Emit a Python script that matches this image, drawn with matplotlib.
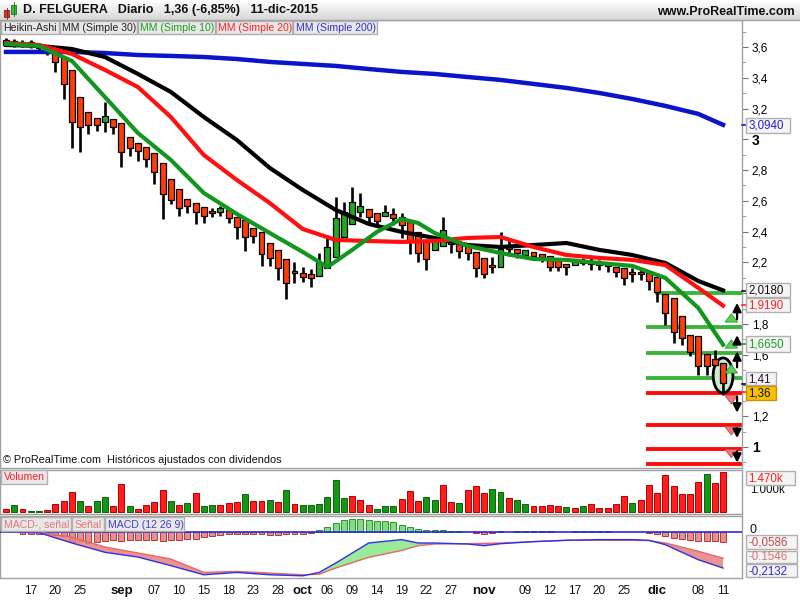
import matplotlib
matplotlib.use('Agg')
import matplotlib.pyplot as plt
import numpy as np
import pandas as pd
from matplotlib.patches import Rectangle, Ellipse
from matplotlib.colors import LinearSegmentedColormap
import matplotlib.transforms as mtrans

plt.rcParams['font.family'] = ['Liberation Sans', 'DejaVu Sans']

# ---- data (Heikin-Ashi candles, D. Felguera, daily) ----
dates = pd.bdate_range('2015-08-12', '2015-12-11')

ha_open = [3.646, 3.639, 3.633, 3.633, 3.620, 3.600, 3.561, 3.535, 3.451, 3.275,
           3.178, 3.139, 3.113, 3.132, 3.106, 3.015, 2.976, 2.950, 2.911, 2.846,
           2.742, 2.677, 2.612, 2.586, 2.560, 2.534, 2.528, 2.541, 2.495, 2.476,
           2.424, 2.398, 2.326, 2.281, 2.222, 2.144, 2.131, 2.125, 2.112, 2.164,
           2.235, 2.365, 2.450, 2.528, 2.547, 2.521, 2.502, 2.515, 2.495, 2.463,
           2.398, 2.346, 2.281, 2.307, 2.346, 2.326, 2.307, 2.268, 2.229, 2.183,
           2.170, 2.313, 2.287, 2.248, 2.268, 2.255, 2.242, 2.216, 2.190, 2.183,
           2.196, 2.209, 2.203, 2.196, 2.170, 2.164, 2.138, 2.138, 2.131, 2.105,
           1.995, 1.969, 1.852, 1.728, 1.722, 1.605, 1.572, 1.546]
ha_high = [3.659, 3.652, 3.646, 3.646, 3.626, 3.607, 3.561, 3.535, 3.451, 3.275,
           3.178, 3.139, 3.243, 3.132, 3.106, 3.015, 2.976, 2.950, 2.911, 2.846,
           2.742, 2.677, 2.612, 2.586, 2.560, 2.554, 2.567, 2.541, 2.495, 2.476,
           2.424, 2.398, 2.326, 2.281, 2.222, 2.203, 2.170, 2.157, 2.261, 2.378,
           2.625, 2.593, 2.690, 2.651, 2.547, 2.521, 2.573, 2.554, 2.521, 2.463,
           2.398, 2.346, 2.359, 2.495, 2.346, 2.326, 2.307, 2.268, 2.229, 2.235,
           2.398, 2.346, 2.287, 2.281, 2.268, 2.255, 2.242, 2.216, 2.190, 2.222,
           2.229, 2.229, 2.216, 2.196, 2.170, 2.164, 2.164, 2.157, 2.131, 2.105,
           1.995, 1.969, 1.852, 1.728, 1.722, 1.605, 1.631, 1.546]
ha_low = [3.607, 3.600, 3.600, 3.594, 3.581, 3.548, 3.438, 3.262, 2.944, 2.918,
          3.035, 3.054, 3.048, 3.035, 2.820, 2.892, 2.859, 2.820, 2.710, 2.482,
          2.580, 2.502, 2.521, 2.450, 2.456, 2.495, 2.502, 2.456, 2.352, 2.274,
          2.326, 2.177, 2.177, 2.086, 1.962, 2.066, 2.073, 2.040, 2.112, 2.164,
          2.235, 2.365, 2.450, 2.495, 2.450, 2.430, 2.502, 2.443, 2.359, 2.255,
          2.203, 2.151, 2.281, 2.307, 2.261, 2.229, 2.216, 2.105, 2.099, 2.131,
          2.170, 2.242, 2.229, 2.229, 2.222, 2.203, 2.144, 2.144, 2.118, 2.183,
          2.183, 2.151, 2.151, 2.138, 2.105, 2.053, 2.073, 2.086, 2.021, 1.943,
          1.793, 1.676, 1.663, 1.592, 1.468, 1.468, 1.527, 1.338]
ha_close = [3.613, 3.613, 3.613, 3.607, 3.594, 3.561, 3.503, 3.360, 3.113, 3.080,
            3.093, 3.093, 3.152, 3.080, 2.918, 2.944, 2.924, 2.872, 2.788, 2.645,
            2.606, 2.554, 2.567, 2.528, 2.502, 2.521, 2.554, 2.489, 2.430, 2.365,
            2.372, 2.255, 2.229, 2.164, 2.066, 2.131, 2.105, 2.099, 2.203, 2.300,
            2.489, 2.528, 2.593, 2.567, 2.495, 2.469, 2.528, 2.489, 2.443, 2.333,
            2.261, 2.222, 2.359, 2.411, 2.320, 2.274, 2.261, 2.164, 2.125, 2.170,
            2.287, 2.287, 2.261, 2.281, 2.242, 2.235, 2.170, 2.170, 2.170, 2.222,
            2.216, 2.190, 2.183, 2.177, 2.138, 2.099, 2.125, 2.125, 2.079, 2.008,
            1.871, 1.748, 1.709, 1.618, 1.527, 1.527, 1.533, 1.416]

# moving averages read at selected bars
ma_idx = [0, 4, 8, 12, 16, 20, 24, 28, 32, 36, 40, 44, 48, 52, 56, 60, 64, 68, 72, 76, 80, 84, 87]
ma200 = [3.568, 3.568, 3.568, 3.561, 3.548, 3.542, 3.535, 3.522, 3.503, 3.490, 3.477, 3.457,
         3.438, 3.425, 3.405, 3.386, 3.360, 3.334, 3.301, 3.262, 3.217, 3.165, 3.094]
ma30 = [3.613, 3.607, 3.587, 3.535, 3.425, 3.308, 3.145, 2.996, 2.814, 2.671, 2.541, 2.450,
        2.398, 2.359, 2.313, 2.300, 2.313, 2.326, 2.281, 2.248, 2.196, 2.079, 2.018]
ma20 = [3.626, 3.613, 3.555, 3.451, 3.340, 3.145, 2.898, 2.736, 2.586, 2.417, 2.346, 2.339,
        2.333, 2.339, 2.359, 2.365, 2.300, 2.248, 2.229, 2.216, 2.183, 2.034, 1.919]
ma10_idx = [0, 4, 8, 12, 16, 20, 24, 28, 32, 36, 39, 42, 45, 48, 50, 52, 56, 60, 64, 68, 72, 76, 80, 84, 87]
ma10 = [3.620, 3.607, 3.509, 3.275, 3.041, 2.866, 2.651, 2.515, 2.391, 2.268, 2.170, 2.281, 2.398,
        2.482, 2.456, 2.391, 2.307, 2.261, 2.222, 2.216, 2.196, 2.177, 2.099, 1.904, 1.665]

# support / resistance levels
sup_green = [2.00, 1.78, 1.61, 1.45]
sup_red = [1.35, 1.14, 0.99, 0.89]

# volume (thousands)
volume = [122, 248, 100, 48, 26, 63, 285, 396, 730, 396,
          211, 396, 544, 211, 1026, 211, 100, 248, 370, 804,
          396, 248, 322, 692, 211, 248, 248, 322, 359, 655,
          396, 396, 455, 359, 804, 285, 248, 248, 285, 544,
          1174, 507, 581, 433, 248, 100, 211, 211, 470, 767,
          396, 544, 433, 989, 359, 322, 804, 952, 692, 841,
          730, 507, 433, 285, 211, 211, 248, 211, 174, 137,
          211, 285, 137, 137, 285, 581, 322, 433, 989, 692,
          1359, 952, 655, 655, 1100, 1396, 1063, 1470]
vol_dir = ("rgrggrrrrg" "rggrrgrrrr" "grgrggrrrg" "rrgrgrgggg" "ggrrrgggrr"
           "rggrrgrrrg" "grggrrrrgr" "grrrrrgrrr" "rrrrrgrr")

# MACD (12 26 9)
macd_idx = [0, 4, 8, 12, 16, 20, 24, 28, 32, 36, 38, 40, 44, 48, 50, 52, 56, 58, 60, 64, 68, 72, 76, 78, 80, 84, 87]
macd = [0.000, -0.004, -0.065, -0.120, -0.148, -0.199, -0.253, -0.239, -0.253, -0.259, -0.239, -0.184, -0.065,
        -0.045, -0.065, -0.065, -0.071, -0.081, -0.069, -0.057, -0.049, -0.045, -0.045, -0.049, -0.075, -0.164, -0.2132]
signal = [0.000, -0.002, -0.030, -0.089, -0.124, -0.160, -0.239, -0.233, -0.243, -0.253, -0.250, -0.213, -0.150,
          -0.109, -0.081, -0.071, -0.069, -0.067, -0.065, -0.057, -0.049, -0.049, -0.049, -0.051, -0.065, -0.114, -0.1546]
hist = [0, 0, -0.012, -0.012, -0.012, -0.012, -0.016, -0.026, -0.061, -0.055,
        -0.065, -0.059, -0.053, -0.049, -0.055, -0.049, -0.045, -0.045, -0.045, -0.055,
        -0.049, -0.045, -0.041, -0.041, -0.032, -0.026, -0.016, -0.012, -0.012, -0.012,
        -0.012, -0.012, -0.016, -0.018, -0.012, -0.012, -0.010, -0.004, 0.014, 0.030,
        0.053, 0.073, 0.077, 0.077, 0.073, 0.067, 0.067, 0.059, 0.043, 0.030,
        0.018, 0.012, 0.012, 0.012, 0.008, 0.008, 0.000, -0.008, -0.012, -0.008,
        0.006, 0.000, 0.006, 0.006, 0.008, 0.006, 0.006, 0.000, 0.000, 0.006,
        0.006, 0.006, 0.006, 0.006, 0.000, 0.000, 0.000, 0.000, -0.008, -0.012,
        -0.026, -0.038, -0.041, -0.045, -0.055, -0.055, -0.055, -0.0586]

month_names = {8: 'ago', 9: 'sep', 10: 'oct', 11: 'nov', 12: 'dic'}
date_ticks = ['2015-08-17', '2015-08-20', '2015-08-25', '2015-09-01', '2015-09-07', '2015-09-10',
              '2015-09-15', '2015-09-18', '2015-09-23', '2015-09-28', '2015-10-01', '2015-10-06',
              '2015-10-09', '2015-10-14', '2015-10-19', '2015-10-22', '2015-10-27', '2015-11-02',
              '2015-11-09', '2015-11-12', '2015-11-17', '2015-11-20', '2015-11-25', '2015-12-01',
              '2015-12-08', '2015-12-11']
month_starts = ['2015-09-01', '2015-10-01', '2015-11-02', '2015-12-01']

# ---- layout helpers ----
W, H = 800, 600
fig = plt.figure(figsize=(8, 6), dpi=100)


def box(x0, y0, x1, y1):
    return fig.add_axes([x0 / W, 1 - y1 / H, (x1 - x0) / W, (y1 - y0) / H])


GRAY = '#a0a0a0'
RED = '#ff3c0a'
GREEN = '#22a822'
XL = (-0.73, 89.3)


def frame(a):
    for s in a.spines.values():
        s.set_color(GRAY)
        s.set_linewidth(1)
    a.set_xlim(*XL)
    a.set_xticks([])


# ---- main price panel ----
ax = box(0, 20, 742, 468)
frame(ax)
ax.set_ylim(0.8635, 3.7755)
n = len(ha_open)
for i in range(n):
    o, h, l, c = ha_open[i], ha_high[i], ha_low[i], ha_close[i]
    ax.plot([i, i], [l, h], color='black', lw=1.9, solid_capstyle='butt', zorder=3)
    hgt = max(abs(c - o), 0.007)
    ax.add_patch(Rectangle((i - 0.36, min(o, c)), 0.72, hgt,
                           fc=GREEN if c > o else RED, ec='black', lw=0.9, zorder=4))

ax.plot(ma_idx, ma200, color='#0a14c8', lw=3.2, zorder=5)
ax.plot(ma_idx, ma30, color='black', lw=3.0, zorder=5)
ax.plot(ma_idx, ma20, color='#ff1010', lw=3.0, zorder=5)
ax.plot(ma10_idx, ma10, color='#14961e', lw=3.0, zorder=6)

for k, lev in enumerate(sup_green):
    ax.plot([79 if k == 0 else 77.9, XL[1]], [lev, lev], color='#3cb43c', lw=2.8, zorder=2)
for lev in sup_red:
    ax.plot([77.9, XL[1]], [lev, lev], color='#ff0a0a', lw=2.8, zorder=2)

ax.add_patch(Ellipse((87, 1.465), 2.4, 0.228, fc='#cdeccd', ec='black', lw=2, zorder=2.5))

up_kw = dict(arrowstyle='simple,head_length=0.6,head_width=0.9,tail_width=0.4',
             fc='#5ad25a', ec='#2a9a2a', lw=0.6)
dn_kw = dict(arrowstyle='simple,head_length=0.6,head_width=0.9,tail_width=0.4',
             fc='#ec7a7a', ec='#c05050', lw=0.6)
for tail, tip in [(1.813, 1.884), (1.644, 1.715), (1.492, 1.553)]:
    ax.annotate('', xy=(88.0, tip), xytext=(88.0, tail), arrowprops=up_kw, zorder=7)
for tail, tip in [(1.332, 1.262), (1.124, 1.060), (0.981, 0.912)]:
    ax.annotate('', xy=(88.0, tip), xytext=(88.0, tail), arrowprops=dn_kw, zorder=7)
blk = dict(arrowstyle='-|>,head_length=0.5,head_width=0.25', color='black', lw=1.6)
for tail, tip in [(1.813, 1.955), (1.650, 1.745), (1.500, 1.640)]:
    ax.annotate('', xy=(88.7, tip), xytext=(88.7, tail), arrowprops=blk, zorder=7)
for tail, tip in [(1.345, 1.205), (1.140, 1.040), (0.990, 0.880)]:
    ax.annotate('', xy=(88.7, tip), xytext=(88.7, tail), arrowprops=blk, zorder=7)

ax.yaxis.tick_right()
yt = [1.0, 1.2, 1.4, 1.6, 1.8, 2.0, 2.2, 2.4, 2.6, 2.8, 3.0, 3.2, 3.4, 3.6]
hidden = (1.4, 2.0)   # covered by the value boxes in the original
ax.set_yticks(yt)
ax.set_yticklabels(['' if v in hidden else ('%g' % v).replace('.', ',') for v in yt])
ax.set_yticks(np.arange(0.9, 3.75, 0.1), minor=True)
ax.tick_params(axis='y', which='major', length=4, color='#707070', labelsize=8.5, pad=3)
ax.tick_params(axis='y', which='minor', length=3, color='#909090')
for lab, v in zip(ax.get_yticklabels(), yt):
    if v in (1.0, 3.0):
        lab.set_fontweight('bold')
        lab.set_fontsize(10)

# ---- volume panel ----
av = box(0, 470, 742, 514)
frame(av)
av.set_ylim(-74, 1555)
av.set_yticks([])
for i in range(n):
    g = vol_dir[i] == 'g'
    av.bar(i, volume[i], width=0.72, color='#169616' if g else '#ff1e1e',
           edgecolor='#0a640a' if g else '#b40000', lw=0.7)

# ---- MACD panel ----
am = box(0, 516, 742, 578)
frame(am)
am.set_ylim(-0.272, 0.0947)
am.set_yticks([])
for i in range(n):
    v = hist[i]
    if v == 0:
        continue
    am.bar(i, v, width=0.72, color='#7ee07e' if v > 0 else '#ec8c8c',
           edgecolor='#2c962c' if v > 0 else '#b03c3c', lw=0.7, zorder=2)
am.axhline(0, color='#2828e0', lw=1.2, zorder=3)
mi = np.array(macd_idx)
mv = np.array(macd)
sv = np.array(signal)
am.fill_between(mi, mv, sv, where=mv <= sv, interpolate=True, color='#e88080', alpha=0.85, lw=0, zorder=3)
am.fill_between(mi, mv, sv, where=mv >= sv, interpolate=True, color='#8ee88e', alpha=0.9, lw=0, zorder=3)
am.plot(mi, sv, color='#e06a6a', lw=1.0, zorder=4)
am.plot(mi, mv, color='#3030e6', lw=1.0, zorder=5)

# ---- overlay in pixel coordinates for labels ----
ov = fig.add_axes([0, 0, 1, 1], zorder=10)
ov.set_xlim(0, W)
ov.set_ylim(H, 0)
ov.axis('off')
ov.patch.set_alpha(0)

# header band
hdr = LinearSegmentedColormap.from_list('hdr', ['#ffffff', '#d6d6d6'])
ov.imshow(np.linspace(0, 1, 40).reshape(-1, 1), cmap=hdr, aspect='auto', extent=[0, W, 20, 0], zorder=0)
ov.plot([0, W], [20, 20], color=GRAY, lw=1)
ov.add_patch(Rectangle((4, 10), 5, 7, fc='#e03030', ec='#802020', lw=0.6))
ov.plot([6.5, 6.5], [8, 19], color='#802020', lw=0.6)
ov.add_patch(Rectangle((11, 5), 5, 9, fc='#30c030', ec='#207020', lw=0.6))
ov.plot([13.5, 13.5], [2, 16], color='#207020', lw=0.6)
ov.text(23, 10.5, 'D. FELGUERA   Diario   1,36 (-6,85%)   11-dic-2015', fontsize=9,
        fontweight='bold', color='#101010', va='center')
ov.text(795, 12, 'www.ProRealTime.com', fontsize=9, fontweight='bold', color='#101010',
        va='center', ha='right')


def tag(x0, x1, y0, y1, txt, col, fc='#e8e8e8', ec='#b0b0b0', fs=7.6):
    ov.add_patch(Rectangle((x0, y0), x1 - x0, y1 - y0, fc=fc, ec=ec, lw=1, zorder=11))
    ov.text(x0 + 2.5, (y0 + y1) / 2 + 0.5, txt, color=col, fontsize=fs, va='center',
            ha='left', zorder=12)


tag(1, 59, 21, 34, 'Heikin-Ashi', '#202020')
tag(60, 137, 21, 34, 'MM (Simple 30)', '#202020')
tag(138, 215, 21, 34, 'MM (Simple 10)', '#1e9a1e')
tag(216, 292, 21, 34, 'MM (Simple 20)', '#ff2020')
tag(293, 377, 21, 34, 'MM (Simple 200)', '#3030d0')

ov.text(3, 460, '© ProRealTime.com  Históricos ajustados con dividendos', fontsize=7.8,
        color='#101010', va='center')
tag(1, 47, 470, 484, 'Volumen', '#ff2020')
tag(1, 71, 517, 531, 'MACD-, señal', '#e07878')
tag(72, 104, 517, 531, 'Señal', '#e07878')
tag(105, 184, 517, 531, 'MACD (12 26 9)', '#4040d0')

# right-axis value boxes
tag(746, 790, 118, 133, '3,0940', '#2020d0', fc='#f4f4f4', fs=8.3)
tag(746, 790, 283, 297, '2,0180', '#101010', fc='#f4f4f4', fs=8.3)
tag(746, 790, 298, 312, '1,9190', '#ff2020', fc='#f4f4f4', fs=8.3)
tag(746, 790, 336, 352, '1,6650', '#1e9a1e', fc='#f4f4f4', fs=8.3)
tag(746, 776, 372, 385, '1,41', '#301030', fc='#f4f4f4', fs=8.3)
tag(746, 776, 386, 400, '1,36', '#101010', fc='#f8c000', ec='#c89400', fs=8.3)
for yy, cc in [(125, '#2020d0'), (291, '#101010'), (305, '#ff2020'), (344, '#1e9a1e'),
               (384, '#101010'), (392, '#ff2020')]:
    ov.plot([742, 747], [yy, yy], color=cc, lw=1.2)

ov.text(750, 490, '1.000k', fontsize=8.3, color='#101010', va='center')
tag(746, 795, 471, 485, '1.470k', '#ff2020', fc='#f4f4f4', fs=8.3)
ov.text(750, 530, '0', fontsize=9, color='#101010', va='center')
tag(746, 797, 535, 549, '-0,0586', '#c04848', fc='#f4f4f4', fs=8.3)
tag(746, 797, 551, 563, '-0.1546', '#e07070', fc='#f4f4f4', fs=8.3)
tag(746, 797, 564, 577, '-0,2132', '#2828d0', fc='#f4f4f4', fs=8.3)

# date labels along the bottom
tr = mtrans.blended_transform_factory(am.transData, fig.transFigure)
dlist = list(dates)
for d in date_ticks:
    dt = pd.Timestamp(d)
    i = dlist.index(dt)
    if d in month_starts:
        lab, fw, fs = month_names[dt.month], 'bold', 9.5
    else:
        lab, fw, fs = '%02d' % dt.day, 'normal', 8.5
    fig.text(i, 1 - 591 / H, lab, transform=tr, ha='center', va='center',
             fontsize=fs, fontweight=fw, color='#101010')

fig.savefig('out.png', dpi=100)
